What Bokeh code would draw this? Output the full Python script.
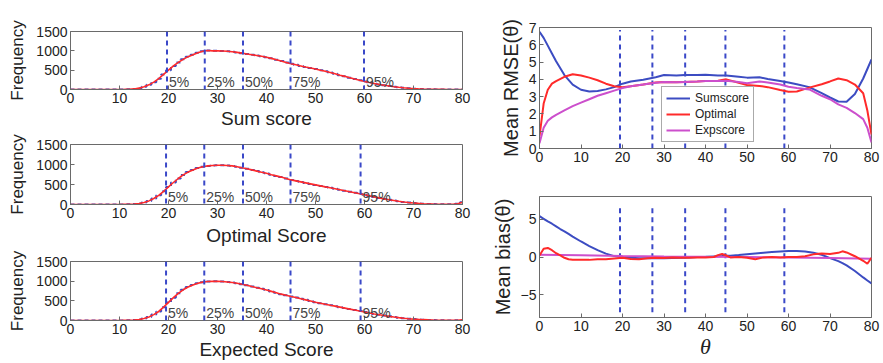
from bokeh.plotting import figure
from bokeh.layouts import row, column
from bokeh.models import Span, Label, Legend, LegendItem, FixedTicker, Range1d
from bokeh.embed import file_html
from bokeh.resources import INLINE

# ---------------- data ----------------
scores = list(range(0, 81))
freq_sum = [0]*11 + [3, 8, 15, 35, 70, 120, 190, 280, 390, 500, 610, 700, 780, 850, 900, 950, 990, 1010,
            1000, 1000, 995, 990, 975, 960, 940, 920, 900, 880, 860, 835, 805, 770, 735, 700, 665, 640,
            610, 580, 555, 530, 500, 470, 440, 405, 370, 340, 305, 270, 240, 207, 180, 155, 130, 110,
            90, 72, 57, 44, 32, 22, 15, 10, 7, 5, 3, 2, 1, 1, 0, 0]
freq_opt = [0]*11 + [3, 6, 12, 25, 50, 90, 150, 230, 330, 440, 550, 650, 740, 810, 865, 910, 945, 965,
            975, 980, 980, 975, 965, 945, 920, 895, 865, 835, 805, 780, 745, 715, 685, 650, 615, 590,
            565, 540, 515, 490, 465, 440, 420, 395, 370, 345, 320, 295, 270, 245, 215, 190, 165, 140,
            120, 100, 80, 62, 48, 38, 28, 20, 14, 10, 7, 5, 5, 8, 20, 55]
freq_exp = [0]*11 + [3, 6, 12, 25, 50, 90, 150, 230, 340, 460, 580, 690, 780, 850, 905, 945, 975, 990,
            995, 995, 990, 980, 965, 945, 920, 895, 865, 835, 805, 775, 740, 705, 670, 640, 610, 585,
            555, 525, 495, 465, 440, 415, 390, 365, 340, 315, 290, 265, 240, 215, 190, 165, 145, 125,
            105, 88, 72, 58, 46, 36, 28, 21, 15, 11, 8, 5, 3, 2, 4, 15]
pct_sum = [19.7, 27.4, 35.2, 44.9, 59.9]
pct_opt = [19.5, 27.3, 35.2, 44.9, 59.2]
pct_exp = [19.5, 27.3, 35.2, 44.9, 59.2]
pct_theta = [19.4, 27.2, 35.1, 44.8, 59.0]
pct_labels = ["5%", "25%", "50%", "75%", "95%"]

theta = [0, 1, 2, 3, 4, 6, 8, 10, 12, 14, 16, 18, 20, 22, 25, 28, 30, 33, 35, 38, 40, 43, 45, 48, 50,
         53, 55, 58, 60, 62, 65, 68, 70, 72, 74, 76, 78, 79, 80]
rmse_sum = [6.75, 6.4, 5.95, 5.5, 5.05, 4.25, 3.7, 3.4, 3.3, 3.33, 3.42, 3.55, 3.75, 3.88, 3.98, 4.12,
            4.25, 4.22, 4.25, 4.25, 4.27, 4.23, 4.22, 4.15, 4.1, 4.12, 4.02, 3.9, 3.82, 3.72, 3.55, 3.2,
            2.95, 2.72, 2.7, 3.15, 4.05, 4.6, 5.15]
rmse_opt = [0.7, 2.6, 3.4, 3.75, 3.9, 4.15, 4.3, 4.22, 4.1, 3.95, 3.75, 3.6, 3.55, 3.6, 3.7, 3.82,
            3.85, 3.83, 3.85, 3.87, 3.9, 3.92, 4.0, 3.8, 3.67, 3.62, 3.55, 3.38, 3.28, 3.3, 3.52, 3.72,
            3.88, 4.05, 3.95, 3.7, 3.2, 2.2, 0.8]
rmse_exp = [0.3, 1.2, 1.6, 1.8, 1.95, 2.2, 2.45, 2.65, 2.85, 3.05, 3.2, 3.35, 3.5, 3.6, 3.7, 3.8,
            3.85, 3.83, 3.85, 3.87, 3.9, 3.9, 3.92, 3.85, 3.78, 3.88, 3.82, 3.7, 3.57, 3.5, 3.42, 3.05,
            2.85, 2.55, 2.35, 2.05, 1.7, 1.2, 0.35]

theta_b = [0, 1, 2, 3, 4, 5, 6, 7, 8, 10, 12, 14, 16, 18, 20, 22, 24, 26, 28, 30, 32, 34, 36, 38, 40,
           42, 43, 44, 45, 46, 48, 50, 52, 54, 56, 58, 60, 62, 64, 66, 68, 70, 72, 73, 74, 76, 78, 79, 80]
bias_sum = [5.4, 5.05, 4.7, 4.4, 4.05, 3.7, 3.4, 3.05, 2.7, 2.05, 1.45, 0.9, 0.45, 0.12, 0.0, -0.1,
            -0.15, -0.18, -0.18, -0.15, -0.12, -0.1, -0.05, 0.0, 0.03, 0.08, 0.1, 0.12, 0.15, 0.18,
            0.25, 0.35, 0.45, 0.55, 0.65, 0.72, 0.78, 0.8, 0.72, 0.55, 0.3, -0.15, -0.55, -0.8, -1.1,
            -1.85, -2.7, -3.1, -3.5]
bias_opt = [0.2, 1.1, 1.2, 0.9, 0.5, 0.2, -0.1, -0.3, -0.35, -0.35, -0.38, -0.3, -0.3, -0.2, -0.1,
            -0.25, -0.3, -0.15, -0.1, -0.12, -0.05, -0.1, -0.1, -0.05, -0.08, 0.0, 0.25, 0.4, 0.2,
            -0.05, 0.0, -0.1, -0.3, -0.05, 0.0, -0.05, 0.0, 0.0, 0.1, 0.35, 0.45, 0.4, 0.55, 0.75, 0.6,
            0.1, -0.5, -0.9, -0.1]
theta_e = [0, 10, 20, 30, 40, 50, 60, 70, 80]
bias_exp = [0.3, 0.22, 0.12, 0.05, 0.02, 0.0, -0.05, -0.12, -0.22]

x_ticks = [0, 10, 20, 30, 40, 50, 60, 70, 80]
freq_ticks = [0, 500, 1000, 1500]
rmse_ticks = [0, 1, 2, 3, 4, 5, 6, 7]
bias_ticks = [-5, 0, 5]
vline_rmse = [0, 6.85]
vline_bias = [-7.3, 6.6]

# ---------------- style ----------------
FONT = "Liberation Sans"
BLUE = "#3c4cc2"
RED = "#ff2a2a"
MAG = "#cc4fcc"
DASH_BLUE = "#3a48c8"
GRAY = "#6a6a6a"
TXT = "#222222"


def base(width, height, xr, yr, bl, br, bt, bb):
    p = figure(width=width, height=height, x_range=Range1d(*xr), y_range=Range1d(*yr),
               output_backend="svg", toolbar_location=None,
               min_border_left=bl, min_border_right=br, min_border_top=bt, min_border_bottom=bb)
    p.grid.visible = False
    p.outline_line_color = GRAY
    p.outline_line_width = 1
    p.background_fill_color = "white"
    p.border_fill_color = "white"
    for ax in p.axis:
        ax.axis_line_color = GRAY
        ax.major_tick_in = 4
        ax.major_tick_out = 0
        ax.major_tick_line_color = GRAY
        ax.minor_tick_line_color = None
        ax.major_label_text_font = FONT
        ax.major_label_text_font_size = "14px"
        ax.major_label_text_color = TXT
        ax.axis_label_text_font = FONT
        ax.axis_label_text_font_style = "normal"
        ax.axis_label_text_color = TXT
        ax.major_label_standoff = 3
    return p


def hist_panel(height, bt, bb, vals, pcts, title, title_standoff):
    p = base(488, height, (0, 80), (0, 1500), 70, 26, bt, bb)
    p.xaxis.ticker = FixedTicker(ticks=x_ticks)
    p.yaxis.ticker = FixedTicker(ticks=freq_ticks)
    p.xaxis.axis_label = title
    p.xaxis.axis_label_text_font_size = "19px"
    p.xaxis.axis_label_standoff = title_standoff
    p.yaxis.axis_label = "Frequency"
    p.yaxis.axis_label_text_font_size = "17px"
    p.yaxis.axis_label_standoff = 6
    for x in pcts:
        p.add_layout(Span(location=x, dimension="height", line_color=DASH_BLUE,
                          line_dash="5 4", line_width=2))
    p.step(scores, vals, mode="center", line_color=BLUE, line_width=2, line_dash="4 3")
    p.line(scores, vals, line_color=RED, line_width=1.6)
    for x, t in zip(pcts, pct_labels):
        p.add_layout(Label(x=x, y=0, x_offset=2, text=t, text_baseline="bottom",
                           text_font=FONT, text_font_size="14px", text_color="#444444"))
    return p


f1 = hist_panel(132, 31, 43, freq_sum, pct_sum, "Sum score", 2)
f2 = hist_panel(118, 12, 46, freq_opt, pct_opt, "Optimal Score", 4)
f3 = hist_panel(113, 11, 43, freq_exp, pct_exp, "Expected Score", 2)

# RMSE
f4 = base(395, 170, (0, 80), (0, 7), 47, 12, 27, 22)
f4.xaxis.ticker = FixedTicker(ticks=x_ticks)
f4.yaxis.ticker = FixedTicker(ticks=rmse_ticks)
f4.yaxis.axis_label = "Mean RMSE(θ)"
f4.yaxis.axis_label_text_font_size = "20px"
f4.yaxis.axis_label_standoff = 4
f4.segment(x0=pct_theta, x1=pct_theta, y0=[vline_rmse[0]]*5, y1=[vline_rmse[1]]*5,
           line_color=DASH_BLUE, line_dash="5 4", line_width=2)
r1 = f4.line(theta, rmse_sum, line_color=BLUE, line_width=2)
r2 = f4.line(theta, rmse_opt, line_color=RED, line_width=2)
r3 = f4.line(theta, rmse_exp, line_color=MAG, line_width=2)
leg = Legend(items=[LegendItem(label="Sumscore", renderers=[r1]),
                    LegendItem(label="Optimal", renderers=[r2]),
                    LegendItem(label="Expscore", renderers=[r3])],
             location=(122, 6), label_text_font=FONT, label_text_font_size="12px",
             label_text_color=TXT, glyph_width=24, glyph_height=12, label_height=12,
             label_standoff=5, spacing=2, padding=4, margin=0, border_line_color="#555555",
             background_fill_alpha=1)
f4.add_layout(leg, "center")

# bias
f5 = base(395, 193, (0, 80), (-8, 8), 47, 12, 26, 46)
f5.xaxis.ticker = FixedTicker(ticks=x_ticks)
f5.yaxis.ticker = FixedTicker(ticks=bias_ticks)
f5.yaxis.axis_label = "Mean bias(θ)"
f5.yaxis.axis_label_text_font_size = "20px"
f5.yaxis.axis_label_standoff = 4
f5.xaxis.axis_label = "θ"
f5.xaxis.axis_label_text_font = "Liberation Serif"
f5.xaxis.axis_label_text_font_style = "italic"
f5.xaxis.axis_label_text_font_size = "22px"
f5.xaxis.axis_label_standoff = 0
f5.segment(x0=pct_theta, x1=pct_theta, y0=[vline_bias[0]]*5, y1=[vline_bias[1]]*5,
           line_color=DASH_BLUE, line_dash="5 4", line_width=2)
f5.line(theta_b, bias_sum, line_color=BLUE, line_width=2)
f5.line(theta_e, bias_exp, line_color=MAG, line_width=2)
f5.line(theta_b, bias_opt, line_color=RED, line_width=2)

layout = row(column(f1, f2, f3), column(f4, f5))
open("out.html", "w").write(file_html(layout, INLINE))
